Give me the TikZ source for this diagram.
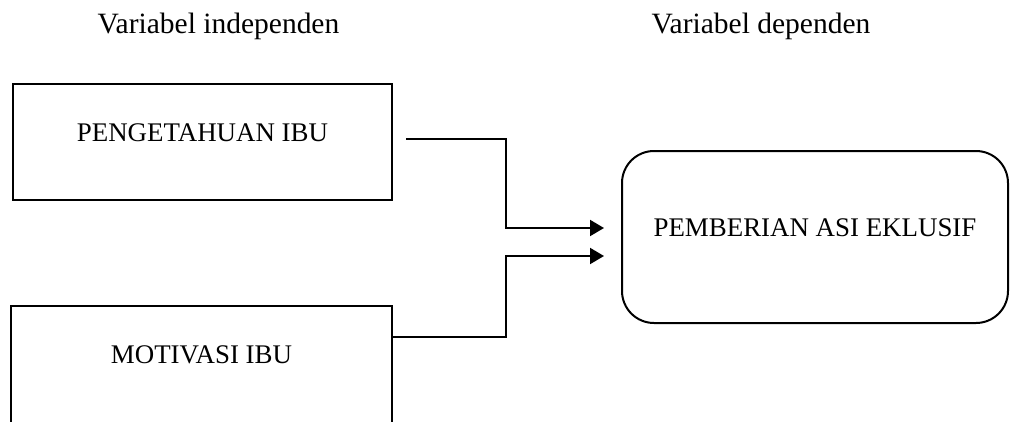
\documentclass[tikz,border=0pt]{standalone}
\usepackage{fontspec}
\setmainfont{Liberation Serif}
\usetikzlibrary{arrows.meta}
\begin{document}
\begin{tikzpicture}[x=1pt,y=-1pt,
  head/.style={anchor=base,inner sep=0pt,font=\fontsize{29.5}{32}\selectfont},
  varbox/.style={draw,line width=2pt,inner sep=0pt,font=\fontsize{26.9}{30}\selectfont},
  link/.style={line width=2pt,-{Triangle[length=14pt,width=16pt]}}]
\useasboundingbox (0,0) rectangle (1010,421);
\clip (0,0) rectangle (1010,421);

% column headings
\node[head] (hi) at (218.5,33) {Variabel independen};
\node[head] (hd) at (761,33) {Variabel dependen};

% independent variables
\node[varbox,minimum width=379pt,text height=57pt,text depth=59pt] (b1) at (202.5,142) {PENGETAHUAN IBU};
\node[varbox,minimum width=381pt,text height=57pt,text depth=117pt] (b2) at (201.5,393) {MOTIVASI IBU};

% dependent variable
\node[varbox,rounded corners=32pt,minimum width=386pt,text height=85pt,text depth=87pt] (c) at (815,237) {PEMBERIAN ASI EKLUSIF};

% connector ends
\coordinate (s1) at (406,139);
\coordinate (s2) at (b2.east |- 0,337);
\coordinate (e1) at (604,228);
\coordinate (e2) at (604,256);

\draw[link] (s1) -- (506,139) -- (506,228) -- (e1);
\draw[link] (s2) -- (506,337) -- (506,256) -- (e2);
\end{tikzpicture}
\end{document}
